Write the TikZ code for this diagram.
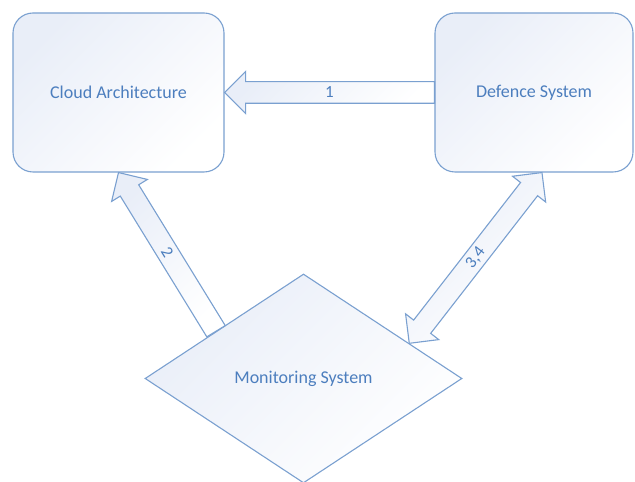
\documentclass[tikz,border=0pt]{standalone}
\usepackage{fontspec}
\setmainfont{Carlito}
\usetikzlibrary{calc,shapes.geometric}

\definecolor{edgeblue}{RGB}{122,160,208}
\definecolor{inkblue}{RGB}{76,126,190}
\definecolor{paleblue}{RGB}{233,238,248}

\tikzset{
  panel/.style={draw=edgeblue, line width=1.1pt, top color=paleblue,
    bottom color=white, shading angle=45, text=inkblue,
    font=\fontsize{18}{20}\selectfont},
  roundbox/.style={panel, rounded corners=20pt, minimum width=211pt,
    minimum height=159pt, inner sep=0pt},
  rhombus/.style={panel, diamond, minimum width=317pt, minimum height=209pt,
    inner sep=0pt},
  arrowbody/.style={draw=edgeblue, line width=1.1pt, top color=paleblue,
    bottom color=white, shading angle=45, line join=miter},
  lbl/.style={text=inkblue, font=\fontsize{17}{19}\selectfont, inner sep=1pt}
}

% block arrow pointing at #1, tail at #2
\newcommand\fatarrow[2]{%
  \draw[arrowbody] (#1)
    -- ($(#1)!21pt!(#2)!21pt!90:(#2)$)
    -- ($(#1)!21pt!(#2)!10.8pt!90:(#2)$)
    -- ($(#2)!10.8pt!-90:(#1)$)
    -- ($(#2)!10.8pt!90:(#1)$)
    -- ($(#1)!21pt!(#2)!10.8pt!-90:(#2)$)
    -- ($(#1)!21pt!(#2)!21pt!-90:(#2)$)
    -- cycle;}

% block arrow with heads at both ends
\newcommand\twinarrow[2]{%
  \draw[arrowbody] (#1)
    -- ($(#1)!21pt!(#2)!21pt!90:(#2)$)
    -- ($(#1)!21pt!(#2)!10.8pt!90:(#2)$)
    -- ($(#2)!21pt!(#1)!10.8pt!-90:(#1)$)
    -- ($(#2)!21pt!(#1)!21pt!-90:(#1)$)
    -- (#2)
    -- ($(#2)!21pt!(#1)!21pt!90:(#1)$)
    -- ($(#2)!21pt!(#1)!10.8pt!90:(#1)$)
    -- ($(#1)!21pt!(#2)!10.8pt!-90:(#2)$)
    -- ($(#1)!21pt!(#2)!21pt!-90:(#2)$)
    -- cycle;}

\begin{document}
\begin{tikzpicture}[x=1pt,y=1pt]
  \useasboundingbox (0,0) rectangle (635,482);

  % the three systems
  \node[roundbox] (cloud) at (118.5,389.5) {Cloud Architecture};
  \node[roundbox, minimum width=198pt] (def) at (534,389.5) {Defence System};
  \node[rhombus] (mon) at (303.5,103.5) {Monitoring System};

  % attachment points on the edges
  \coordinate (monA) at ($(mon.west)!0.45!(mon.north)$);
  \coordinate (monB) at ($(mon.north)!0.665!(mon.east)$);
  \coordinate (defB) at ($(def.south west)!0.54!(def.south east)$);

  % block arrows
  \fatarrow{cloud.east}{def.west}
  \fatarrow{cloud.south}{monA}
  \twinarrow{monB}{defB}

  % arrow labels
  \path (cloud.east) -- (def.west) node[midway, lbl] (l1) {1};
  \path (cloud.south) -- (monA) node[midway, sloped, lbl] (l2) {2};
  \path (monB) -- (defB) node[midway, sloped, lbl] (l34) {3,4};
\end{tikzpicture}
\end{document}
